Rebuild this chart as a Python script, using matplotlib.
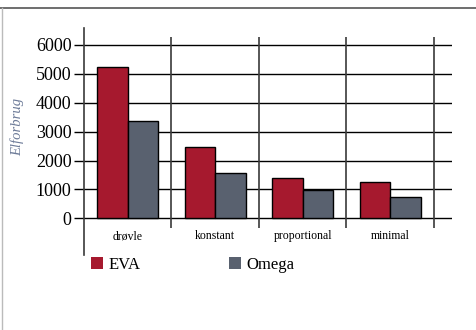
import matplotlib.pyplot as plt
from matplotlib.patches import Patch
from matplotlib.lines import Line2D
import numpy as np

plt.rcParams['font.family'] = ['Liberation Serif', 'DejaVu Serif']

categories = ["drøvle", "konstant", "proportional", "minimal"]
eva = [5250, 2460, 1400, 1240]
omega = [3380, 1560, 980, 730]
yticks = [0, 1000, 2000, 3000, 4000, 5000, 6000]

eva_color = "#a6192e"
omega_color = "#59616f"

fig = plt.figure(figsize=(4.77, 3.30), dpi=100)
W, H = 477, 330

# axes placed in pixel terms: x 84..452, y 28..255
ax = fig.add_axes([84 / W, 1 - 255 / H, (452 - 84) / W, (255 - 28) / H])
ax.set_xlim(0, 368 / 87.5)
ax.set_ylim(-1270, 6587)

x = np.arange(len(categories))
bw = 0.35
ax.bar(x + 0.15, eva, bw, align="edge", color=eva_color, edgecolor="black", lw=1, zorder=3)
ax.bar(x + 0.15 + bw, omega, bw, align="edge", color=omega_color, edgecolor="black", lw=1, zorder=3)

# gridlines and group separators
for v in yticks:
    ax.axhline(v, color="black", lw=1, zorder=2)
ax.vlines(x + 1, -336, 6276, color="#3a3a3a", lw=1.2, zorder=2)

for s in ["top", "right", "bottom"]:
    ax.spines[s].set_visible(False)
ax.spines["left"].set_color("#3a3a3a")
ax.spines["left"].set_linewidth(1.2)

ax.set_xticks([])
ax.set_yticks(yticks)
ax.set_yticklabels([str(v) for v in yticks], fontsize=13)
ax.tick_params(axis="y", length=7, width=1, color="black", pad=2)

for i, c in enumerate(categories):
    ax.text(i + 0.5, -620, c, ha="center", va="center", fontsize=8.5)

fig.text(17 / W, 1 - 127 / H, "Elforbrug", rotation=90, ha="center", va="center",
         fontsize=10.5, style="italic", color="#6d7b98")

handles = [Patch(facecolor=eva_color, edgecolor="none", label="EVA"),
           Patch(facecolor=omega_color, edgecolor="none", label="Omega")]
fig.legend(handles=handles, loc="center left", bbox_to_anchor=(91 / W, 1 - 265 / H),
           ncol=2, frameon=False, fontsize=12, handlelength=0.75, handleheight=0.75,
           handletextpad=0.3, columnspacing=5.3, borderaxespad=0, borderpad=0)

# page frame lines
fig.add_artist(Line2D([0, 1], [1 - 8 / H, 1 - 8 / H], color="#555555", lw=1.2))
fig.add_artist(Line2D([1.5 / W, 1.5 / W], [0, 1 - 8 / H], color="#bbbbbb", lw=1))

fig.savefig("out.png", dpi=100)
